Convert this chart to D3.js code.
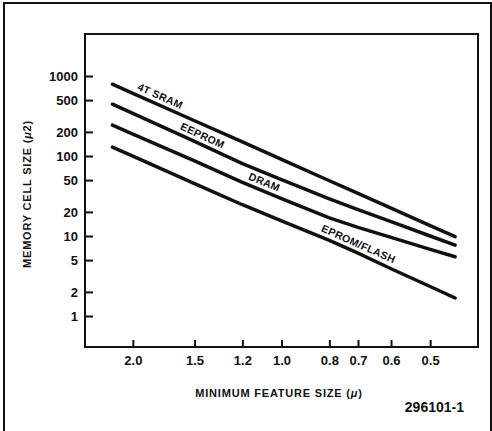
<!DOCTYPE html>
<html>
<head>
<meta charset="utf-8">
<script src="https://cdn.jsdelivr.net/npm/d3@7"></script>
<style>
  html, body { margin: 0; padding: 0; background: #fff; }
  svg { display: block; font-family: 'Liberation Sans', Arial, sans-serif; }
</style>
</head>
<body>
<div class="canvas"></div>
<script>
const featureSizes = [2.2, 2.0, 1.5, 1.2, 1.0, 0.8, 0.7, 0.6, 0.5, 0.445]
const sram4t = [790, 608, 276, 150, 90.7, 49.1, 34.1, 22.3, 13.5, 9.8]
const eeprom = [444, 341, 152, 80.5, 50.7, 29.2, 21.4, 15.1, 10.0, 7.7]
const dram = [243, 188, 86.9, 46.7, 29.3, 16.9, 12.8, 9.6, 6.8, 5.5]
const epromFlash = [129, 99.4, 45.2, 24.6, 15.5, 8.8, 6.1, 3.9, 2.34, 1.68]

const seriesNames = ['4T SRAM', 'EEPROM', 'DRAM', 'EPROM/FLASH']
const labelAt = [1.79, 1.47, 1.10, 0.71]

const xTicks = [2.0, 1.5, 1.2, 1.0, 0.8, 0.7, 0.6, 0.5]
const yTicks = [1, 2, 5, 10, 20, 50, 100, 200, 500, 1000]

class CellSizeChart {
  constructor(margin, size) {
    this.margin = margin
    this.size = size

    this.svg = d3.select('.canvas')
      .append('svg')
      .attr('width', this.size.width)
      .attr('height', this.size.height)

    this.svg.append('rect')
      .attr('x', 4)
      .attr('y', 3)
      .attr('width', 487)
      .attr('height', 440)
      .attr('fill', 'none')
      .attr('stroke', '#111')
      .attr('stroke-width', 2)

    this.container = this.svg.append('g')
      .attr('transform', `translate(${this.margin.left}, ${this.margin.top})`)

    this.setUpScales()
    this.drawAxes()
    this.drawFrame()
    this.drawLines()
    this.drawLabels()
    this.drawTitles()
  }

  get dimensions() {
    return {
      width: this.size.width - this.margin.left - this.margin.right,
      height: this.size.height - this.margin.top - this.margin.bottom
    }
  }

  setUpScales() {
    this.x = d3.scaleLog()
      .domain([2.5, 0.4])
      .range([0, this.dimensions.width])

    this.y = d3.scaleLog()
      .domain([0.41, 3350])
      .range([this.dimensions.height, 0])
  }

  drawAxes() {
    const xAxis = d3.axisBottom(this.x)
      .tickValues(xTicks)
      .tickFormat(d3.format('.1f'))
      .tickSize(-7)
      .tickPadding(9)

    const yAxis = d3.axisLeft(this.y)
      .tickValues(yTicks)
      .tickFormat(d3.format('d'))
      .tickSize(-8)
      .tickPadding(7)

    const xGroup = this.container.append('g')
      .attr('transform', `translate(0, ${this.dimensions.height})`)
      .call(xAxis)

    const yGroup = this.container.append('g')
      .call(yAxis)

    ;[xGroup, yGroup].forEach(group => {
      group.select('.domain').remove()
      group.selectAll('line')
        .attr('stroke', '#111')
        .attr('stroke-width', 2)
      group.selectAll('text')
        .attr('fill', '#111')
        .style('font-size', '13px')
        .style('font-weight', 'bold')
    })
  }

  drawFrame() {
    this.container.append('rect')
      .attr('width', this.dimensions.width)
      .attr('height', this.dimensions.height)
      .attr('fill', 'none')
      .attr('stroke', '#111')
      .attr('stroke-width', 2)
  }

  get series() {
    return [sram4t, eeprom, dram, epromFlash].map(values =>
      featureSizes.map((size, i) => ({size, cell: values[i]})))
  }

  drawLines() {
    const line = d3.line()
      .x(d => this.x(d.size))
      .y(d => this.y(d.cell))

    this.container.selectAll('.series')
      .data(this.series)
      .enter()
      .append('path')
      .attr('class', 'series')
      .attr('fill', 'none')
      .attr('stroke', '#111')
      .attr('stroke-width', 3.5)
      .attr('stroke-linecap', 'round')
      .attr('stroke-linejoin', 'round')
      .attr('d', line)
  }

  pointOn(points, size) {
    const px = this.x(size)
    const coords = points.map(d => [this.x(d.size), this.y(d.cell)])
    let i = coords.findIndex(c => c[0] > px)
    if (i < 1) i = 1
    const [x0, y0] = coords[i - 1]
    const [x1, y1] = coords[i]
    const t = (px - x0) / (x1 - x0)
    return {
      x: px,
      y: y0 + t * (y1 - y0),
      angle: Math.atan2(y1 - y0, x1 - x0) * 180 / Math.PI
    }
  }

  drawLabels() {
    const series = this.series
    seriesNames.forEach((name, i) => {
      const p = this.pointOn(series[i], labelAt[i])
      this.container.append('text')
        .attr('transform', `translate(${p.x}, ${p.y}) rotate(${p.angle})`)
        .attr('y', -5)
        .attr('text-anchor', 'middle')
        .attr('fill', '#111')
        .style('font-family', "'Liberation Sans Narrow', 'Liberation Sans', sans-serif")
        .style('font-size', '10.5px')
        .style('font-weight', 'bold')
        .style('letter-spacing', '0.3px')
        .text(name)
    })
  }

  drawTitles() {
    const xTitle = this.svg.append('text')
      .attr('x', 279)
      .attr('y', 397)
      .attr('text-anchor', 'middle')
      .attr('fill', '#111')
      .style('font-size', '11px')
      .style('font-weight', 'bold')
      .style('letter-spacing', '0.8px')
    xTitle.append('tspan').text('MINIMUM FEATURE SIZE (')
    xTitle.append('tspan').style('font-style', 'italic').text('μ')
    xTitle.append('tspan').text(')')

    const yTitle = this.svg.append('text')
      .attr('transform', 'translate(31, 194) rotate(-90)')
      .attr('text-anchor', 'middle')
      .attr('fill', '#111')
      .style('font-size', '11px')
      .style('font-weight', 'bold')
      .style('letter-spacing', '0.8px')
    yTitle.append('tspan').text('MEMORY CELL SIZE (')
    yTitle.append('tspan').style('font-style', 'italic').text('μ')
    yTitle.append('tspan').text('2)')

    this.svg.append('text')
      .attr('x', 464)
      .attr('y', 412)
      .attr('text-anchor', 'end')
      .attr('fill', '#111')
      .style('font-size', '14px')
      .style('font-weight', 'bold')
      .text('296101-1')
  }
}

new CellSizeChart({top: 34, right: 14, bottom: 84, left: 85}, {width: 492, height: 431})
</script>
</body>
</html>
